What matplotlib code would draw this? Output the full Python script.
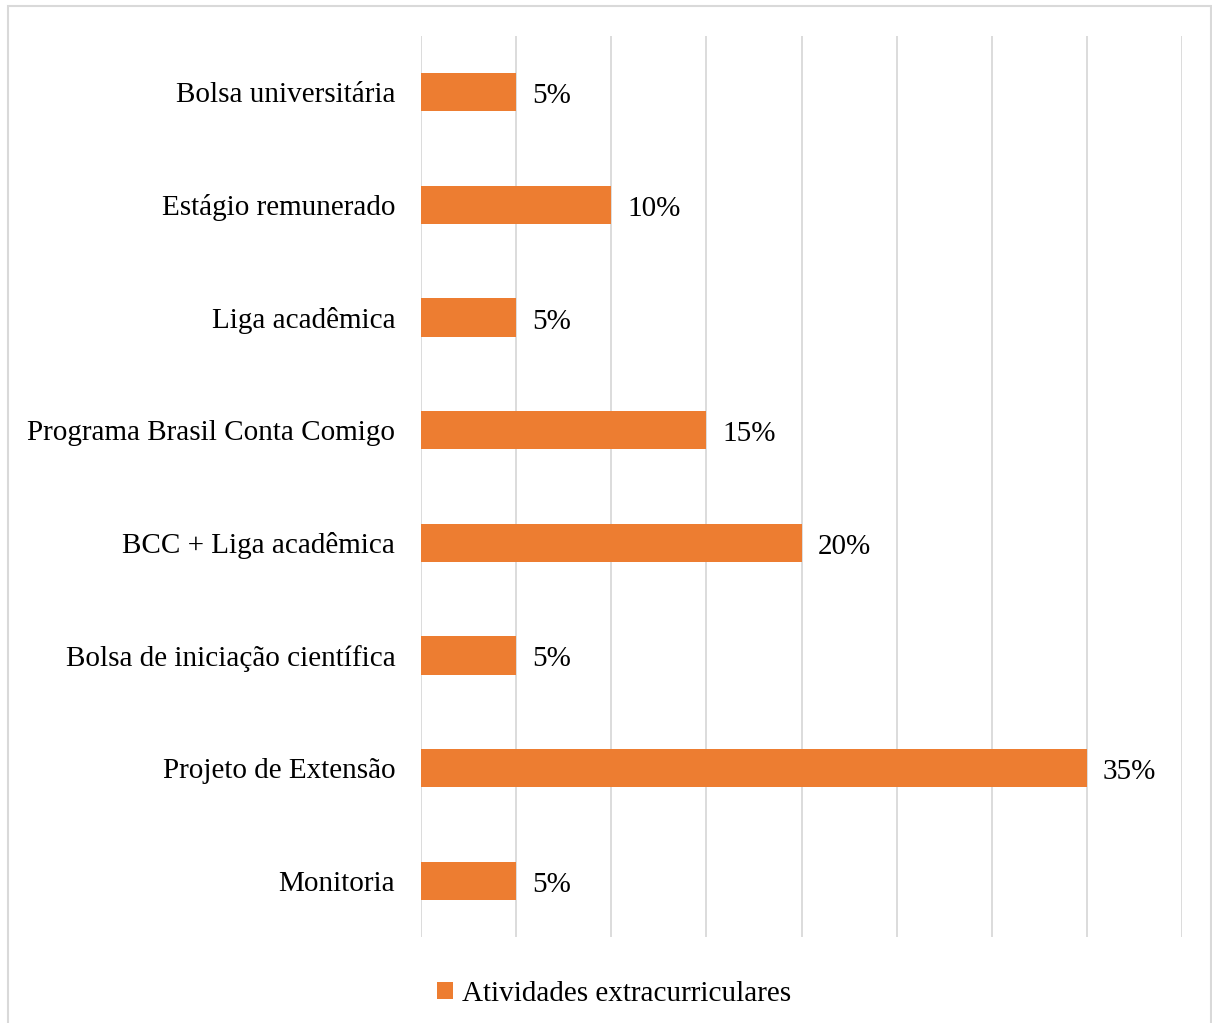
import matplotlib.pyplot as plt
from matplotlib.patches import Rectangle

categories = [
    "Monitoria",
    "Projeto de Extensão",
    "Bolsa de iniciação científica",
    "BCC + Liga acadêmica",
    "Programa Brasil Conta Comigo",
    "Liga acadêmica",
    "Estágio remunerado",
    "Bolsa universitária",
]
values = [5, 35, 5, 20, 15, 5, 10, 5]
series_name = "Atividades extracurriculares"

plt.rcParams['font.family'] = ['Liberation Serif', 'DejaVu Serif']

fig = plt.figure(figsize=(12.12, 10.23), dpi=100)
ax = fig.add_axes([421 / 1212, 86 / 1023, 761 / 1212, 901 / 1023])

bars = ax.barh(range(len(categories)), values, height=0.34,
               color='#ED7D31', label=series_name, zorder=3)
for bar, v in zip(bars, values):
    ax.text(bar.get_width() + 0.85, bar.get_y() + bar.get_height() / 2 - 0.035,
            f"{v}%", va='center', ha='left', fontsize=21)

ax.set_xlim(0, 40)
ax.set_ylim(-0.5, len(categories) - 0.5)
ax.set_xticks(range(0, 41, 5))
ax.set_xticklabels([])
ax.set_yticks(range(len(categories)))
ax.set_yticklabels(categories, fontsize=21)
ax.tick_params(axis='both', length=0)
ax.tick_params(axis='y', pad=18.5)
ax.grid(axis='x', color='#D9D9D9', linewidth=1.3, zorder=0)
for s in ax.spines.values():
    s.set_visible(False)

fig.legend(handles=[bars], labels=[series_name], loc='center',
           bbox_to_anchor=(614 / 1212, 1 - 994 / 1023), frameon=False,
           fontsize=21, handlelength=0.55, handleheight=0.55, handletextpad=0.3)

# outer chart frame
fig.patches.append(Rectangle((8 / 1212, -0.01), 1203 / 1212, 1.01 - 6 / 1023,
                             transform=fig.transFigure, fill=False,
                             edgecolor='#D9D9D9', linewidth=1.5))

fig.savefig('out.png', dpi=100, facecolor='white')
